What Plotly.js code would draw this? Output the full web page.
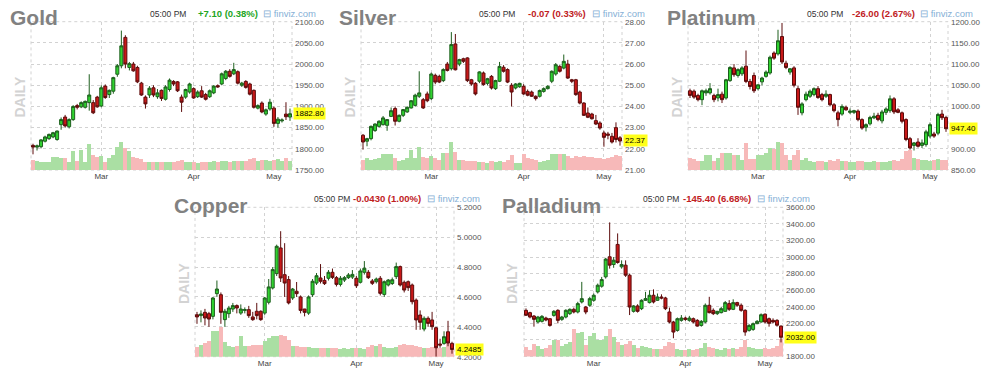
<!DOCTYPE html>
<html><head><meta charset="utf-8">
<script src="https://cdn.plot.ly/plotly-3.0.1.min.js"></script>
<style>html,body{margin:0;padding:0;background:#fff;overflow:hidden}#chart{width:987px;height:378px}</style>
</head><body><div id="chart"></div>
<script>
// ---------- DATA ----------
const dates = ['2022-02-03','2022-02-04','2022-02-07','2022-02-08','2022-02-09','2022-02-10','2022-02-11','2022-02-14','2022-02-15','2022-02-16','2022-02-17','2022-02-18','2022-02-22','2022-02-23','2022-02-24','2022-02-25','2022-02-28',
'2022-03-01','2022-03-02','2022-03-03','2022-03-04','2022-03-07','2022-03-08','2022-03-09','2022-03-10','2022-03-11','2022-03-14','2022-03-15','2022-03-16','2022-03-17','2022-03-18','2022-03-21','2022-03-22','2022-03-23','2022-03-24','2022-03-25','2022-03-28','2022-03-29','2022-03-30','2022-03-31',
'2022-04-01','2022-04-04','2022-04-05','2022-04-06','2022-04-07','2022-04-08','2022-04-11','2022-04-12','2022-04-13','2022-04-14','2022-04-18','2022-04-19','2022-04-20','2022-04-21','2022-04-22','2022-04-25','2022-04-26','2022-04-27','2022-04-28','2022-04-29',
'2022-05-02','2022-05-03','2022-05-04','2022-05-05','2022-05-06'];
const monthTickDates = ['2022-03-01','2022-04-01','2022-05-02'];
const monthTickLabels = ['Mar','Apr','May'];

const goldOpen  = [1808,1804,1805,1818,1824,1828,1822,1857,1875,1852,1869,1902,1899,1898,1909,1909,1922,1901,1948,1928,1936,1976,1996,2063,1992,2000,1992,1955,1922,1927,1944,1923,1938,1917,1940,1959,1958,1922,1922,1934,1942,1923,1937,1928,1923,1932,1949,1953,1966,1983,1977,1982,1950,1959,1953,1938,1896,1908,1882,1894,1896,1860,1866,1882,1875];
const goldHigh  = [1812,1810,1823,1831,1836,1840,1843,1874,1880,1872,1903,1906,1912,1914,1976,1915,1925,1950,1952,1940,1970,2000,2079,2068,2005,2005,1996,1958,1926,1948,1950,1941,1940,1950,1966,1962,1960,1928,1942,1956,1945,1938,1948,1932,1940,1950,1952,1980,1986,1988,2003,1985,1958,1962,1956,1940,1905,1912,1895,1918,1900,1875,1872,1910,1895];
const goldLow   = [1787,1796,1801,1815,1821,1825,1819,1845,1850,1848,1866,1893,1896,1895,1890,1882,1897,1898,1918,1920,1930,1970,1990,1990,1985,1982,1955,1925,1895,1920,1922,1918,1913,1914,1935,1948,1934,1887,1918,1930,1918,1920,1920,1914,1920,1929,1944,1950,1962,1968,1974,1952,1946,1942,1926,1895,1893,1884,1878,1890,1852,1850,1862,1868,1866];
const goldClose = [1804,1807,1821,1828,1834,1838,1842,1869,1854,1869,1900,1898,1909,1912,1927,1885,1899,1944,1921,1938,1968,1996,2043,2000,2001,1984,1958,1927,1906,1943,1927,1932,1919,1946,1962,1953,1937,1910,1940,1953,1920,1934,1922,1917,1937,1948,1946,1977,1983,1971,1987,1955,1955,1945,1929,1898,1902,1887,1892,1910,1860,1870,1868,1875.7,1882.8];
const goldVolume = [100,90,83,77,83,133,133,117,117,83,190,90,200,83,257,150,133,143,83,123,150,233,277,217,190,133,117,110,83,83,77,83,77,83,80,77,90,100,85,80,83,75,80,78,85,90,80,95,90,85,92,95,88,95,110,120,95,105,100,95,100,110,95,120,90];

const silverOpen  = [22.64,22.36,22.48,22.86,23.06,23.14,23.11,23.53,23.90,23.30,23.58,23.74,23.93,24.05,24.48,24.32,24.59,24.37,25.47,25.42,25.22,26.00,25.78,26.95,26.00,26.25,26.29,25.26,25.09,25.19,25.58,25.09,25.42,24.84,25.19,25.85,25.74,25.00,24.87,24.93,24.95,24.71,24.68,24.48,24.48,24.71,24.84,25.19,25.53,25.89,25.81,26.00,25.26,25.26,24.68,24.16,23.69,23.64,23.33,23.22,22.75,22.70,22.59,23.00,22.52];
const silverHigh  = [22.70,22.52,23.10,23.20,23.35,23.55,23.40,23.95,24.00,23.62,23.88,24.00,24.30,24.60,25.66,24.40,24.70,25.60,25.55,25.50,25.80,26.10,27.51,27.42,26.25,26.30,26.32,25.30,25.15,25.66,25.65,25.35,25.48,25.26,26.10,25.95,25.80,25.10,25.10,25.12,25.05,24.80,24.75,24.52,24.80,24.90,25.00,25.70,26.05,25.95,26.45,26.20,25.30,25.30,24.75,24.20,23.95,23.70,23.60,23.30,22.85,22.80,22.75,23.25,22.60];
const silverLow   = [21.96,22.12,22.40,22.80,23.00,23.10,22.85,23.50,23.10,23.25,23.50,23.70,23.90,24.00,24.40,23.88,24.20,24.30,25.05,25.10,25.15,25.65,25.70,25.70,25.90,26.05,25.15,24.98,24.52,25.10,24.98,25.00,24.80,24.78,25.15,25.60,25.10,24.00,24.80,24.88,24.55,24.48,24.45,24.28,24.42,24.65,24.80,25.10,25.45,25.60,25.75,25.30,25.10,24.50,24.10,23.55,23.45,23.38,23.12,22.90,22.10,22.45,22.25,22.30,22.15];
const silverClose = [22.32,22.48,23.06,23.17,23.30,23.46,23.38,23.80,23.30,23.58,23.85,23.96,24.27,24.53,24.64,23.93,24.27,25.53,25.15,25.15,25.74,25.70,26.92,25.73,26.21,26.13,25.22,25.06,24.59,25.63,25.03,25.31,24.87,25.22,25.89,25.66,25.15,24.68,25.06,25.09,24.59,24.53,24.48,24.37,24.75,24.84,24.95,25.66,25.97,25.66,26.13,25.34,25.19,24.56,24.16,23.58,23.49,23.42,23.17,22.98,22.54,22.64,22.32,22.44,22.37];
const silverVolume = [103,120,103,113,120,160,160,160,120,93,103,120,200,120,227,127,120,137,120,103,170,170,280,180,103,103,93,87,87,80,80,70,87,80,90,80,100,150,70,70,160,120,110,100,80,90,100,160,160,160,160,140,120,140,130,140,130,130,120,120,110,120,130,150,140];

const platinumOpen  = [1037,1036,1026,1016,1032,1032,1026,1020,1029,1020,1061,1091,1073,1077,1095,1059,1073,1042,1058,1071,1079,1126,1124,1165,1102,1081,1091,1042,985,1016,1024,1028,1042,1028,1024,1028,1004,985,982,998,986,986,989,969,951,959,973,979,966,986,990,1018,992,985,969,924,908,916,908,910,930,935,937,982,974];
const platinumHigh  = [1042,1040,1030,1040,1042,1055,1030,1042,1035,1065,1095,1100,1090,1095,1132,1065,1080,1052,1070,1085,1120,1130,1181,1197,1108,1090,1095,1048,1010,1035,1040,1045,1048,1032,1038,1030,1008,990,1005,1002,995,992,993,972,960,978,985,985,992,998,1026,1022,996,988,972,928,916,925,922,945,962,940,985,992,978];
const platinumLow   = [1020,1018,1012,1003,1025,1028,1010,1012,1008,1016,1058,1070,1068,1072,1055,1040,1032,1038,1050,1068,1075,1110,1120,1100,1088,1075,1045,980,979,1012,1020,1024,1018,1012,1020,1000,986,953,978,990,982,982,965,945,941,955,970,965,960,980,985,982,984,960,918,898,896,903,902,905,925,926,932,968,940];
const platinumClose = [1026,1022,1016,1037,1037,1042,1016,1028,1016,1063,1092,1075,1087,1091,1059,1047,1037,1051,1067,1081,1116,1114,1155,1105,1092,1089,1050,998,1006,1029,1036,1042,1021,1016,1029,1004,990,969,1000,992,989,990,969,949,957,974,977,969,987,994,1018,987,986,965,922,902,914,906,914,940,957,930,981,973.4,947.4];
const platinumVolume = [120,113,87,93,153,153,93,120,170,170,170,153,153,103,270,113,113,147,147,170,220,213,280,270,153,103,153,203,103,120,93,80,87,90,85,100,95,110,95,90,85,80,90,95,85,80,90,85,80,85,90,100,95,110,195,205,120,110,100,105,95,100,110,105,100];

const copperOpen  = [4.481,4.475,4.497,4.488,4.470,4.622,4.615,4.448,4.488,4.519,4.542,4.492,4.510,4.515,4.466,4.504,4.504,4.492,4.564,4.660,4.756,4.928,4.749,4.716,4.593,4.638,4.600,4.519,4.492,4.615,4.693,4.727,4.711,4.725,4.765,4.729,4.684,4.713,4.729,4.733,4.725,4.698,4.765,4.765,4.707,4.702,4.725,4.617,4.680,4.690,4.736,4.803,4.698,4.702,4.680,4.579,4.479,4.385,4.457,4.446,4.394,4.285,4.289,4.367,4.289];
const copperHigh  = [4.50,4.51,4.52,4.50,4.60,4.71,4.63,4.52,4.54,4.56,4.55,4.55,4.53,4.54,4.50,4.56,4.51,4.60,4.72,4.80,4.95,5.04,4.96,4.74,4.66,4.70,4.61,4.52,4.61,4.72,4.76,4.82,4.74,4.78,4.79,4.74,4.74,4.74,4.76,4.78,4.74,4.79,4.84,4.78,4.72,4.73,4.74,4.71,4.72,4.73,4.83,4.81,4.71,4.71,4.69,4.59,4.51,4.47,4.47,4.50,4.40,4.32,4.37,4.44,4.30];
const copperLow   = [4.42,4.43,4.41,4.40,4.45,4.60,4.42,4.40,4.46,4.50,4.49,4.48,4.49,4.46,4.44,4.45,4.44,4.48,4.55,4.65,4.74,4.70,4.60,4.55,4.58,4.60,4.49,4.47,4.48,4.60,4.68,4.69,4.68,4.71,4.72,4.67,4.67,4.70,4.72,4.72,4.66,4.69,4.75,4.72,4.68,4.69,4.61,4.60,4.67,4.68,4.72,4.67,4.63,4.64,4.55,4.38,4.38,4.37,4.40,4.38,4.20,4.26,4.28,4.27,4.22];
const copperClose = [4.466,4.486,4.459,4.452,4.593,4.653,4.497,4.504,4.526,4.542,4.526,4.519,4.515,4.475,4.448,4.475,4.448,4.593,4.667,4.783,4.939,4.727,4.693,4.560,4.653,4.622,4.510,4.497,4.600,4.705,4.742,4.705,4.689,4.765,4.731,4.684,4.725,4.729,4.747,4.751,4.675,4.774,4.792,4.729,4.691,4.720,4.624,4.702,4.713,4.715,4.803,4.680,4.646,4.662,4.568,4.446,4.430,4.457,4.423,4.401,4.260,4.278,4.334,4.2915,4.2485];
const copperVolume = [97,120,137,153,253,253,297,143,110,97,103,203,103,110,120,120,120,153,187,203,210,220,203,170,110,103,97,97,97,87,87,87,83,85,90,85,80,85,80,85,90,85,80,95,120,110,125,100,90,85,95,120,125,115,120,110,95,85,90,100,110,90,95,150,100];

const palladiumOpen  = [2357,2329,2288,2216,2224,2264,2256,2296,2357,2248,2276,2317,2369,2337,2458,2397,2418,2478,2579,2648,2761,3003,2910,3152,2882,2902,2781,2345,2410,2377,2478,2450,2539,2478,2518,2506,2337,2216,2115,2236,2264,2236,2256,2236,2175,2216,2418,2357,2317,2329,2345,2438,2369,2450,2418,2357,2115,2127,2196,2216,2310,2256,2236,2236,2167];
const palladiumHigh  = [2380,2340,2300,2290,2300,2280,2260,2360,2370,2290,2370,2380,2390,2460,2700,2410,2520,2560,2680,2760,2990,3418,3000,3285,2960,2960,2800,2420,2430,2490,2580,2600,2610,2560,2550,2520,2390,2230,2270,2300,2280,2290,2270,2250,2240,2440,2520,2380,2350,2400,2470,2480,2490,2460,2440,2370,2190,2210,2240,2320,2320,2270,2260,2250,2175];
const palladiumLow   = [2290,2260,2160,2200,2210,2225,2160,2280,2200,2230,2260,2300,2320,2320,2440,2310,2400,2460,2560,2630,2740,2860,2870,2920,2860,2760,2300,2330,2330,2360,2470,2440,2440,2470,2490,2360,2200,2020,2100,2220,2230,2220,2200,2160,2160,2200,2320,2300,2300,2320,2340,2350,2360,2400,2340,2050,2100,2110,2190,2210,2200,2160,2200,2160,1970];
const palladiumClose = [2297,2276,2248,2276,2284,2240,2175,2345,2236,2276,2357,2369,2337,2438,2498,2337,2498,2539,2660,2728,2975,2902,2962,2934,2910,2781,2397,2410,2345,2478,2498,2539,2458,2518,2506,2377,2216,2095,2256,2264,2248,2264,2216,2167,2224,2418,2329,2317,2345,2377,2450,2369,2450,2418,2357,2095,2175,2196,2224,2304,2216,2200,2216,2177.4,2032];
const palladiumVolume = [93,67,127,100,77,83,110,160,160,100,127,143,277,230,243,110,200,230,160,160,200,270,193,143,110,120,150,110,80,100,90,80,70,75,70,100,140,130,70,60,60,70,60,70,80,130,90,80,70,60,80,70,80,70,90,160,90,80,70,70,80,70,80,100,170];

const names = ['Gold','Silver','Platinum','Copper','Palladium'];
const changes = ['+7.10 (0.38%)','-0.07 (0.33%)','-26.00 (2.67%)','-0.0430 (1.00%)','-145.40 (6.68%)'];
const lastLabels = ['1882.80','22.37','947.40','4.2485','2032.00'];
const timeLabel = '05:00 PM';

// ---------- STYLE / GEOMETRY ----------
const W = 987, H = 378;
const FONT = '"Liberation Sans", Arial, sans-serif';
const series = [
  {o:goldOpen,h:goldHigh,l:goldLow,c:goldClose,v:goldVolume, range:[1750,2100], dtick:50, fmt:'.2f',
   box:[31,292,21.7,170], title:[8,17.5], small:14, time:188, chg:260, fv:318, daily:[20,97.5]},
  {o:silverOpen,h:silverHigh,l:silverLow,c:silverClose,v:silverVolume, range:[21,28], dtick:1, fmt:'.2f',
   box:[361,622,21.7,170], title:[337,17.5], small:14, time:517, chg:588, fv:647, daily:[350,97.5]},
  {o:platinumOpen,h:platinumHigh,l:platinumLow,c:platinumClose,v:platinumVolume, range:[850,1200], dtick:50, fmt:'.2f',
   box:[688,948,21.7,170], title:[665,17.5], small:14, time:845, chg:917, fv:975, daily:[677,97.5]},
  {o:copperOpen,h:copperHigh,l:copperLow,c:copperClose,v:copperVolume, range:[4.2,5.2], dtick:0.2, fmt:'.4f',
   box:[195,454,207.3,356.7], title:[172,205], small:198.5, time:352, chg:423, fv:482, daily:[184,284]},
  {o:palladiumOpen,h:palladiumHigh,l:palladiumLow,c:palladiumClose,v:palladiumVolume, range:[1800,3600], dtick:200, fmt:'.2f',
   box:[524,783,207.3,356.5], title:[500,205], small:198.5, time:681, chg:753, fv:812, daily:[512,284]}
];

const GRID = '#d2d2d2';
const traces = [], shapes = [], annotations = [];
const layout = {
  width: W, height: H, margin:{l:0,r:0,t:0,b:0},
  paper_bgcolor:'#ffffff', plot_bgcolor:'rgba(0,0,0,0)',
  showlegend:false, bargap:0, boxgap:0.25, boxgroupgap:0,
  font:{family:FONT, size:8, color:'#444'},
  hovermode:false
};
const px = x => x / W, py = y => 1 - y / H;

series.forEach((s, k) => {
  const n = k + 1;            // x axis + volume y axis
  const pn = k + 6;           // price y axis
  const xid = n === 1 ? 'x' : 'x' + n;
  const vid = n === 1 ? 'y' : 'y' + n;
  const pid = 'y' + pn;
  const [x0, x1, y0, y1] = s.box;
  const up = s.c.map((c, i) => c >= s.o[i]);

  traces.push({
    type:'bar', x:dates, y:s.v, xaxis:xid, yaxis:vid,
    marker:{color: up.map(u => u ? '#aadfa3' : '#f7b9b9'), line:{width:0}},
    hoverinfo:'skip'
  });
  traces.push({
    type:'candlestick', x:dates, open:s.o, high:s.h, low:s.l, close:s.c,
    xaxis:xid, yaxis:pid, whiskerwidth:0,
    increasing:{line:{color:'#1d5e1d', width:1}, fillcolor:'#2fd22f'},
    decreasing:{line:{color:'#5c0c0c', width:1}, fillcolor:'#c81818'},
    hoverinfo:'skip'
  });

  layout['xaxis' + (n === 1 ? '' : n)] = {
    domain:[px(x0), px(x1)], anchor:vid, type:'category',
    categoryorder:'array', categoryarray:dates, range:[-0.5, dates.length - 0.5],
    tickmode:'array', tickvals:monthTickDates, ticktext:monthTickLabels,
    showgrid:true, gridcolor:GRID, griddash:'3px,3px', gridwidth:1,
    zeroline:false, showline:false, ticks:'', tickfont:{size:8, color:'#444'},
    rangeslider:{visible:false}, fixedrange:true
  };
  layout['yaxis' + (n === 1 ? '' : n)] = {
    domain:[py(y1), py(y0)], anchor:xid, range:[0, 1490],
    visible:false, showgrid:false, zeroline:false, fixedrange:true
  };
  layout['yaxis' + pn] = {
    overlaying:vid, anchor:xid, side:'right', range:s.range,
    tickmode:'linear', tick0:0, dtick:s.dtick, tickformat:s.fmt,
    showgrid:true, gridcolor:GRID, griddash:'3px,3px', gridwidth:1,
    zeroline:false, showline:false, ticks:'', ticklabelstandoff:2,
    tickfont:{size:8, color:'#555'}, fixedrange:true
  };

  shapes.push({type:'rect', xref:xid + ' domain', yref:vid + ' domain', x0:0, x1:1, y0:0, y1:1,
    line:{color:GRID, width:1, dash:'3px,3px'}, layer:'below'});

  // last price label
  annotations.push({xref:xid + ' domain', yref:pid, x:1, y:s.c[s.c.length - 1], xanchor:'left', yanchor:'middle',
    xshift:1, text:lastLabels[k], showarrow:false, bgcolor:'#ffff1a', borderpad:1,
    font:{size:8, color:'#000', family:FONT}});
  // headers
  annotations.push({xref:'paper', yref:'paper', x:px(s.title[0]), y:py(s.title[1]), xanchor:'left', yanchor:'middle',
    text:names[k], showarrow:false, font:{size:21, color:'#818181', family:FONT, weight:'bold'}});
  annotations.push({xref:'paper', yref:'paper', x:px(s.time), y:py(s.small), xanchor:'right', yanchor:'middle',
    text:timeLabel, showarrow:false, font:{size:8.5, color:'#333', family:FONT}});
  annotations.push({xref:'paper', yref:'paper', x:px(s.chg), y:py(s.small), xanchor:'right', yanchor:'middle',
    text:changes[k], showarrow:false,
    font:{size:9.5, color: changes[k][0] === '+' ? '#23a623' : '#c0201e', family:FONT, weight:'bold'}});
  annotations.push({xref:'paper', yref:'paper', x:px(s.fv), y:py(s.small), xanchor:'right', yanchor:'middle',
    text:'⊟ finviz.com', showarrow:false, font:{size:9.5, color:'#86b0d6', family:FONT}});
  annotations.push({xref:'paper', yref:'paper', x:px(s.daily[0]), y:py(s.daily[1]), xanchor:'center', yanchor:'middle',
    text:'DAILY', textangle:-90, showarrow:false, font:{size:14, color:'#d3d3d3', family:FONT, weight:'bold'}});
});

layout.shapes = shapes;
layout.annotations = annotations;

Plotly.newPlot('chart', traces, layout, {staticPlot:true, displayModeBar:false});
</script>
</body></html>
